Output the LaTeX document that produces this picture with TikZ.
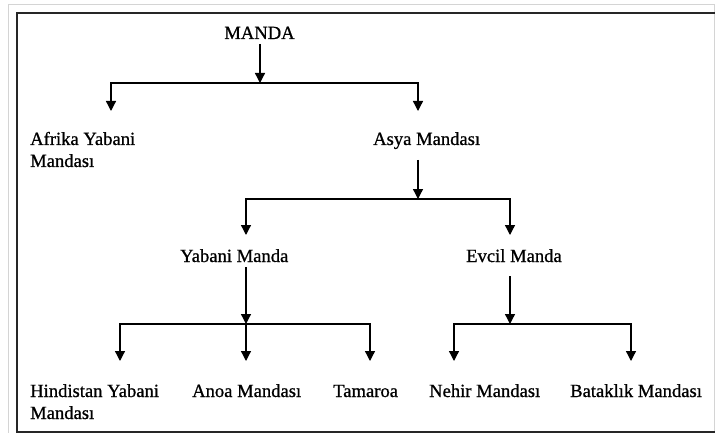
\documentclass[tikz,border=0pt]{standalone}
\usepackage{fontspec}
\setmainfont{Liberation Serif}[FakeBold=0.8]
\usetikzlibrary{arrows.meta}
\begin{document}
\begin{tikzpicture}[x=1pt,y=-1pt,
  lbl/.style={inner sep=0pt,anchor=base west,align=left,font=\fontsize{18.6}{22}\selectfont},
  conn/.style={line width=1.3pt,black,line cap=rect},
  arr/.style={line width=1.3pt,black,-{Triangle[width=10pt,length=10pt]}}]
\useasboundingbox (0,0) rectangle (715,433);
\begin{scope}
\clip (0,0) rectangle (715,433);
\draw[line width=1pt,black!17] (8,4.5) rectangle (714,445);
\draw[line width=2pt,black!85] (17,13) rectangle (725,432);
\end{scope}
% labels
\node[lbl,anchor=base] (m) at (259.5,39) {MANDA};
\node[lbl] (afr) at (30,167) {Afrika Yabani\\Mandası};
\node[lbl] (asy) at (373,145) {Asya Mandası};
\node[lbl] (yab) at (180,262) {Yabani Manda};
\node[lbl] (evc) at (466,262) {Evcil Manda};
\node[lbl] (hin) at (30,419) {Hindistan Yabani\\Mandası};
\node[lbl] (ano) at (192,397) {Anoa Mandası};
\node[lbl] (tam) at (333,397) {Tamaroa};
\node[lbl] (neh) at (429,397) {Nehir Mandası};
\node[lbl] (bat) at (570,397) {Bataklık Mandası};
% coordinates
\coordinate (m-out) at (260,44);
\coordinate (j1) at (260,83);
\coordinate (j1l) at (111,83);
\coordinate (j1r) at (418,83);
\coordinate (afr-in) at (111,111);
\coordinate (asy-in) at (418,111);
\coordinate (asy-out) at (418,160);
\coordinate (j2) at (418,199);
\coordinate (j2l) at (246,199);
\coordinate (j2r) at (510,199);
\coordinate (yab-in) at (246,235);
\coordinate (evc-in) at (510,235);
\coordinate (yab-out) at (246,267);
\coordinate (j3) at (246,324);
\coordinate (j3l) at (120,324);
\coordinate (j3r) at (370,324);
\coordinate (hin-in) at (120,361);
\coordinate (ano-in) at (246,361);
\coordinate (tam-in) at (370,361);
\coordinate (evc-out) at (510,276);
\coordinate (j4) at (510,324);
\coordinate (j4l) at (454,324);
\coordinate (j4r) at (631,324);
\coordinate (neh-in) at (454,361);
\coordinate (bat-in) at (631,361);
% connectors
\draw[arr] (m-out) -- (j1);
\draw[conn] (j1l) -- (j1r);
\draw[arr] (j1l) -- (afr-in);
\draw[arr] (j1r) -- (asy-in);
\draw[arr] (asy-out) -- (j2);
\draw[conn] (j2l) -- (j2r);
\draw[arr] (j2l) -- (yab-in);
\draw[arr] (j2r) -- (evc-in);
\draw[arr] (yab-out) -- (j3);
\draw[conn] (j3l) -- (j3r);
\draw[arr] (j3l) -- (hin-in);
\draw[arr] (j3) -- (ano-in);
\draw[arr] (j3r) -- (tam-in);
\draw[arr] (evc-out) -- (j4);
\draw[conn] (j4l) -- (j4r);
\draw[arr] (j4l) -- (neh-in);
\draw[arr] (j4r) -- (bat-in);
\end{tikzpicture}
\end{document}
